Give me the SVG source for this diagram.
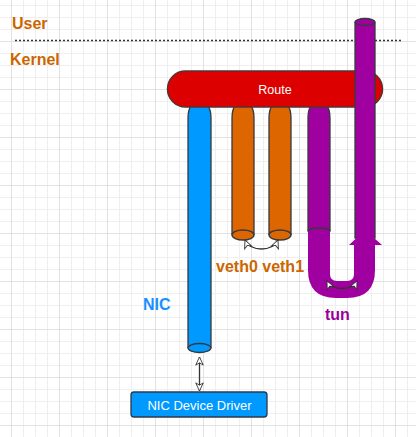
<svg xmlns="http://www.w3.org/2000/svg" width="416" height="437" viewBox="0 0 416 437">
<style>
text{font-family:"Liberation Sans",Arial,sans-serif}
.lbl{font-weight:bold;font-size:16px}
.tube{stroke:#36393d;stroke-width:1.3}
.blue{fill:#0099ff}
.orange{fill:#dd6600}
.purple{fill:#a000a0}
.conn{fill:none;stroke:#333;stroke-width:1.3}
</style>
<defs>
<pattern id="minor" x="11" y="5" width="12" height="12" patternUnits="userSpaceOnUse">
<path d="M0.5,0V12M0,0.5H12" stroke="#efefef" stroke-width="1" fill="none"/>
</pattern>
<pattern id="major" x="11" y="41" width="48" height="48" patternUnits="userSpaceOnUse">
<path d="M0.5,0V48M0,0.5H48" stroke="#e2e2e2" stroke-width="1" fill="none"/>
</pattern>
<marker id="arr" viewBox="0 0 10 10" refX="9.5" refY="5" markerWidth="11" markerHeight="9" markerUnits="userSpaceOnUse" orient="auto-start-reverse">
<path d="M0.5,0.8L9.5,5L0.5,9.2L3,5Z" fill="#fff" stroke="#333" stroke-width="1"/>
</marker>
</defs>
<rect width="416" height="437" fill="#fff"/>
<rect width="416" height="437" fill="url(#minor)"/>
<rect width="416" height="437" fill="url(#major)"/>

<g id="user-label"><text class="lbl" x="12" y="29" fill="#cc6600">User</text></g>
<g id="divider"><line x1="15" y1="40.5" x2="402" y2="40.5" stroke="#333" stroke-width="1.5" stroke-dasharray="2,2"/></g>
<g id="kernel-label"><text class="lbl" x="10" y="65" fill="#cc6600">Kernel</text></g>

<g id="nic">
<path class="tube blue" d="M188,348V118A11.5,19 0 0 1 211,118V348"/>
<ellipse class="tube blue" cx="199.5" cy="348" rx="11.5" ry="4.5"/>
<text class="lbl" x="143" y="310" fill="#1a90ff" font-size="17">NIC</text>
</g>

<g id="veth0">
<path class="tube orange" d="M232,235V118A11,19 0 0 1 254,118V235"/>
<ellipse class="tube orange" cx="243" cy="235" rx="11" ry="5"/>
</g>
<g id="veth1">
<path class="tube orange" d="M269,235V118A11,19 0 0 1 291,118V235"/>
<ellipse class="tube orange" cx="280" cy="235" rx="11" ry="5"/>
</g>
<g id="tun-in">
<path class="tube purple" d="M308,231V118A11,19 0 0 1 330,118V231"/>
<ellipse class="tube purple" cx="319" cy="231" rx="11" ry="3"/>
</g>

<g id="route">
<rect x="167.5" y="71" width="215" height="36" rx="18" fill="#dd0000" stroke="#553333" stroke-width="1.5"/>
<text x="275" y="93.5" fill="#fff" font-size="12.5" text-anchor="middle">Route</text>
</g>

<g id="tun-out">
<path class="tube purple" d="M355,22V238H375V22"/>
<ellipse class="tube purple" cx="365" cy="22" rx="10" ry="3.5"/>
</g>

<g id="driver">
<rect x="131" y="392" width="136" height="25" rx="3" fill="#0099ff" stroke="#2b3a4a" stroke-width="1.3"/>
<text x="199.5" y="410" fill="#fff" font-size="13" text-anchor="middle">NIC Device Driver</text>
</g>

<g id="connectors">
<path class="purple" d="M308,232L308,270Q308,298 336,298L347,298Q375,298 375,270L375,245L382,245L365,230L349,245L354,245L354,274Q354,281 347,281L337,281Q330,281 330,274L330,232Z"/>
<path class="conn" d="M245,240C250,252 273,252 278,240" marker-start="url(#arr)" marker-end="url(#arr)"/>
<path class="conn" d="M327,281C332,291 352,291 357,281" marker-start="url(#arr)" marker-end="url(#arr)"/>
<line class="conn" x1="199.5" y1="357" x2="199.5" y2="391" marker-start="url(#arr)" marker-end="url(#arr)"/>
</g>

<g id="labels">
<text class="lbl" x="216" y="272" fill="#cc6600" font-size="16.5">veth0 veth1</text>
<text class="lbl" x="325" y="320" fill="#990099">tun</text>
</g>
</svg>
